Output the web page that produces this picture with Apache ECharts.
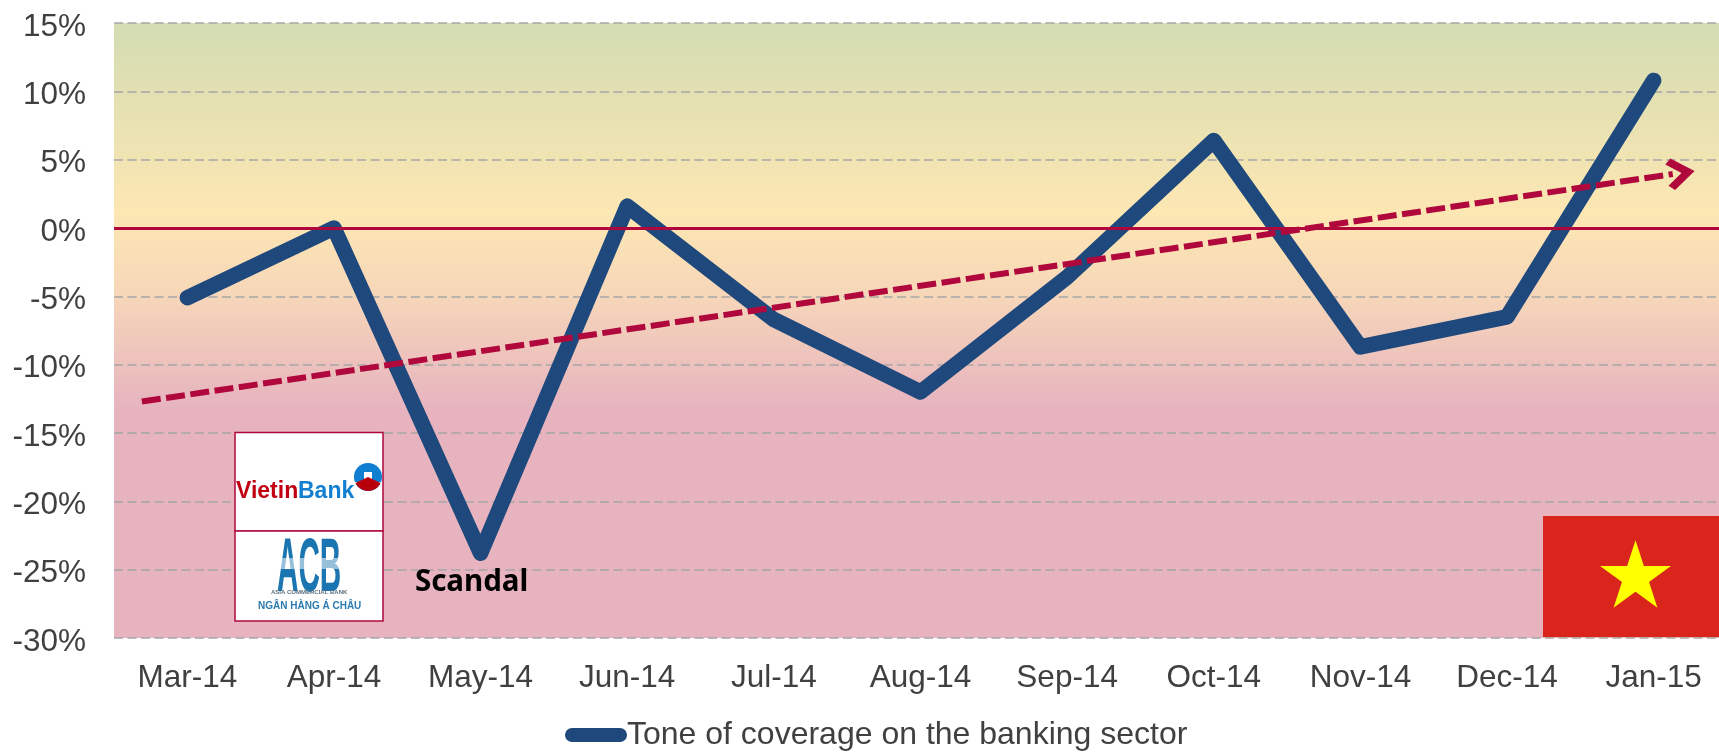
<!DOCTYPE html>
<html>
<head>
<meta charset="utf-8">
<title>Tone of coverage on the banking sector</title>
<style>
    html, body { margin: 0; padding: 0; background: #fff; overflow: hidden; }
    #main { width: 1719px; height: 752px; }
</style>
<script src="https://cdn.jsdelivr.net/npm/echarts@6/dist/echarts.min.js"></script>
</head>
<body>
<div id="main"></div>
<script>
var months = ['Mar-14', 'Apr-14', 'May-14', 'Jun-14', 'Jul-14', 'Aug-14', 'Sep-14', 'Oct-14', 'Nov-14', 'Dec-14', 'Jan-15'];
var toneValues = [-5.1, 0, -23.8, 1.6, -6.7, -12.0, -3.6, 6.4, -8.7, -6.5, 10.8];
var seriesName = 'Tone of coverage on the banking sector';

// trend arrow: x is in category positions (Mar-14 = 0)
var trendX = [-0.31, 10.13];
var trendY = [-12.7, 3.95];

var FONT = '"Liberation Sans", Arial, sans-serif';
var CRIMSON = '#b0083c';
var BLUE = '#1f497d';

var chart = echarts.init(document.getElementById('main'));

// five pointed star for the flag
function starPoints(cx, cy, r) {
    var pts = [];
    var inner = r * 0.382;
    for (var i = 0; i < 10; i++) {
        var rad = i % 2 ? inner : r;
        var a = -Math.PI / 2 + i * Math.PI / 5;
        pts.push([cx + rad * Math.cos(a), cy + rad * Math.sin(a)]);
    }
    return pts;
}

// logos and flag are only decoration, so they sit in graphic
var logoGraphics = [
    { type: 'rect', shape: { x: 235, y: 432.5, width: 148, height: 98.5 }, style: { fill: '#fff', stroke: CRIMSON, lineWidth: 1.5 } },
    { type: 'rect', shape: { x: 235, y: 531, width: 148, height: 90 }, style: { fill: '#fff', stroke: CRIMSON, lineWidth: 1.5 } },
    { type: 'text', x: 236, y: 480, style: { text: 'Vietin', fill: '#c00010', font: 'bold 23px ' + FONT } },
    { type: 'text', x: 298, y: 480, style: { text: 'Bank', fill: '#127fd0', font: 'bold 23px ' + FONT } },
    { type: 'circle', shape: { cx: 368, cy: 477, r: 14 }, style: { fill: '#0f7fd2' } },
    { type: 'rect', shape: { x: 364, y: 472, width: 8, height: 10 }, style: { fill: '#fff' } },
    { type: 'rect', shape: { x: 354, y: 482, width: 28, height: 2 }, style: { fill: '#fff' } },
    { type: 'sector', shape: { cx: 368, cy: 477, r: 14, startAngle: 0.45, endAngle: Math.PI - 0.45 }, style: { fill: '#b8000c' } },
    { type: 'text', x: 277, y: 532, scaleX: 0.39, style: { text: 'ACB', fill: '#1a75b0', font: 'bold 76px ' + FONT } },
    { type: 'rect', shape: { x: 275, y: 558, width: 66, height: 11 }, style: { fill: 'rgba(255,255,255,0.55)' } },
    { type: 'text', x: 271, y: 589, style: { text: 'ASIA COMMERCIAL BANK', fill: '#5b6f7f', font: 'bold 6px ' + FONT } },
    { type: 'text', x: 258, y: 601, style: { text: 'NGÂN HÀNG Á CHÂU', fill: '#2b7bb0', font: 'bold 10px ' + FONT } },
    { type: 'rect', shape: { x: 1543, y: 516, width: 176, height: 121 }, style: { fill: '#da251c' } },
    { type: 'polygon', shape: { points: starPoints(1635.5, 577.5, 37.3) }, style: { fill: '#ffff00' } }
].map(function (g) {
    g.z = 10;
    return g;
});

var trendData = [
    { value: [trendX[0], trendY[0]], symbol: 'none' },
    {
        value: [trendX[1], trendY[1]],
        symbol: 'path://M0 30L24 0L48 30L40 38L24 18L8 38Z',
        symbolSize: [32, 28],
        symbolRotate: -81.5,
        symbolOffset: [8, -1]
    }
];

var scandalIndex = months.indexOf('May-14');

var option = {
    animation: false,
    textStyle: { fontFamily: FONT },
    grid: {
        show: true,
        left: 114,
        top: 23,
        width: 1613,
        height: 615,
        outerBoundsMode: 'none',
        borderWidth: 0,
        backgroundColor: new echarts.graphic.LinearGradient(0, 0, 0, 1, [
            { offset: 0, color: '#d3dcb2' },
            { offset: 0.31, color: '#fde7b3' },
            { offset: 0.444, color: '#f6d6b9' },
            { offset: 0.63, color: '#e6b3bf' },
            { offset: 1, color: '#e6b3bf' }
        ])
    },
    legend: {
        data: [seriesName],
        left: 565,
        top: 719,
        padding: 0,
        itemWidth: 62,
        itemHeight: 14,
        icon: 'path://M7 0H55A7 7 0 0 1 55 14H7A7 7 0 0 1 7 0Z',
        textStyle: { color: '#404040', fontSize: 32, fontFamily: FONT, padding: [9, 0, 0, -5] }
    },
    xAxis: [
        {
            type: 'category',
            data: months,
            axisLine: { show: false },
            axisTick: { show: false },
            axisLabel: { color: '#404040', fontSize: 31.5, margin: 24, fontFamily: FONT, interval: 0 }
        },
        { type: 'value', min: -0.5, max: 10.5, show: false, splitLine: { show: false } }
    ],
    yAxis: {
        type: 'value',
        min: -30,
        max: 15,
        interval: 5,
        axisLine: { show: false },
        axisTick: { show: false },
        axisLabel: { color: '#404040', fontSize: 31.5, margin: 28, verticalAlign: 'top', lineHeight: 8, fontFamily: FONT, formatter: '{value}%' },
        splitLine: { lineStyle: { color: '#a6a6a6', width: 1.5, type: [9, 4.5] } }
    },
    series: [
        {
            name: 'Zero',
            type: 'line',
            z: 1,
            data: [],
            markLine: {
                silent: true,
                symbol: 'none',
                label: { show: false },
                lineStyle: { color: CRIMSON, width: 3, type: 'solid' },
                data: [{ yAxis: 0 }]
            }
        },
        {
            name: seriesName,
            type: 'line',
            z: 2,
            data: toneValues,
            showSymbol: false,
            symbol: 'none',
            itemStyle: { color: BLUE },
            lineStyle: { color: BLUE, width: 15.5, cap: 'round', join: 'round' },
            markPoint: {
                silent: true,
                symbol: 'circle',
                symbolSize: 1,
                itemStyle: { color: 'transparent' },
                label: {
                    show: true,
                    position: 'bottom',
                    distance: 14,
                    offset: [-9, 0],
                    formatter: 'Scandal',
                    color: '#000',
                    fontFamily: '"Noto Sans", sans-serif',
                    fontWeight: 'bold',
                    fontSize: 29.5
                },
                data: [{ coord: [scandalIndex, toneValues[scandalIndex]] }]
            }
        },
        {
            name: 'Trend',
            type: 'line',
            z: 3,
            xAxisIndex: 1,
            data: trendData,
            itemStyle: { color: CRIMSON },
            lineStyle: { color: CRIMSON, width: 6, type: [19, 5.5] }
        }
    ],
    graphic: logoGraphics
};

chart.setOption(option);
</script>
</body>
</html>
